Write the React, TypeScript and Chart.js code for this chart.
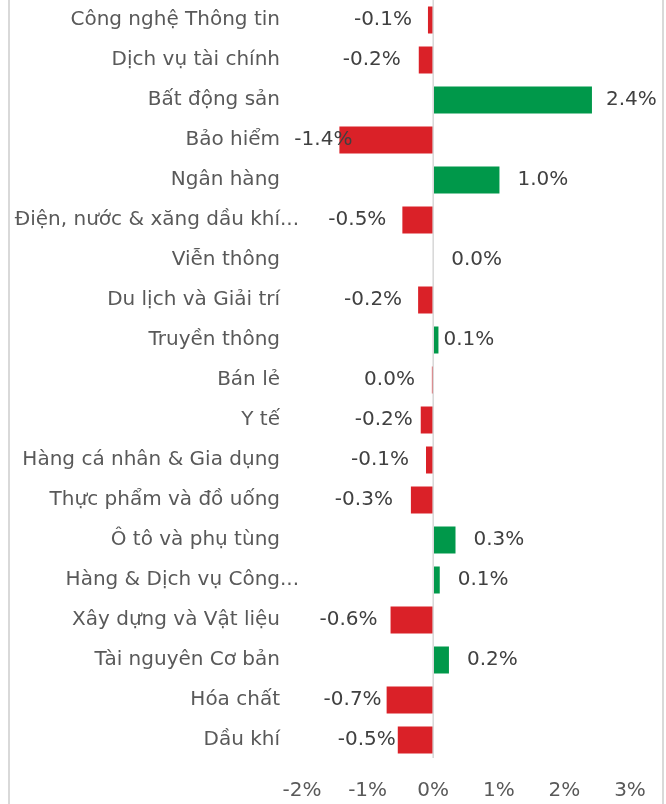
import React, { useEffect, useRef } from "react";
import { Chart, registerables } from "chart.js";

Chart.register(...registerables);

const categories: string[] = [
  "Công nghệ Thông tin",
  "Dịch vụ tài chính",
  "Bất động sản",
  "Bảo hiểm",
  "Ngân hàng",
  "Điện, nước & xăng dầu khí...",
  "Viễn thông",
  "Du lịch và Giải trí",
  "Truyền thông",
  "Bán lẻ",
  "Y tế",
  "Hàng cá nhân & Gia dụng",
  "Thực phẩm và đồ uống",
  "Ô tô và phụ tùng",
  "Hàng & Dịch vụ Công...",
  "Xây dựng và Vật liệu",
  "Tài nguyên Cơ bản",
  "Hóa chất",
  "Dầu khí",
];

const values: number[] = [
  -0.08, -0.22, 2.42, -1.43, 1.01, -0.47, 0.0, -0.23, 0.08, -0.02, -0.19, -0.11,
  -0.34, 0.34, 0.1, -0.65, 0.24, -0.71, -0.54,
];

const xTicks: number[] = [-2, -1, 0, 1, 2, 3];

// style: gap (px) between bar end and its value label
const labelGap: number[] = [16, 18, 14, -13, 18, 16, 18, 16, 5, 17, 8, 17, 18, 18, 18, 13, 18, 5, 2];

const FONT = '"DejaVu Sans", sans-serif';
const RED = "#DA2128";
const GREEN = "#00984A";
const TEXT = "#595959";
const LABEL = "#404040";
const LINE = "#D9D9D9";

const fmt = (v: number) => {
  const r = Math.round(v * 10) / 10;
  return (r === 0 ? 0 : r).toFixed(1) + "%";
};

const decorPlugin = {
  id: "decor",
  beforeDraw(chart: any) {
    const ctx = chart.ctx;
    ctx.save();
    ctx.strokeStyle = LINE;
    ctx.lineWidth = 2;
    ctx.beginPath();
    ctx.moveTo(9, 0);
    ctx.lineTo(9, chart.height);
    ctx.moveTo(663, 0);
    ctx.lineTo(663, chart.height);
    ctx.stroke();
    ctx.restore();
  },
  afterDatasetsDraw(chart: any) {
    const ctx = chart.ctx;
    const xs = chart.scales.x;
    const ys = chart.scales.y;
    const area = chart.chartArea;
    ctx.save();
    // zero line
    const x0 = xs.getPixelForValue(0);
    ctx.strokeStyle = LINE;
    ctx.lineWidth = 1.6;
    ctx.beginPath();
    ctx.moveTo(x0, area.top);
    ctx.lineTo(x0, area.bottom - 2);
    ctx.stroke();

    ctx.font = `20px ${FONT}`;
    ctx.textBaseline = "middle";
    // x tick labels
    ctx.fillStyle = TEXT;
    ctx.textAlign = "center";
    xs.ticks.forEach((t: any) => {
      ctx.fillText(`${t.value}%`, xs.getPixelForValue(t.value), area.bottom + 31);
    });
    // category labels
    const lx = area.left - 22;
    categories.forEach((c, i) => {
      const y = ys.getPixelForValue(i);
      if (c.endsWith("...")) {
        const base = c.slice(0, -3);
        ctx.textAlign = "right";
        ctx.fillText(base, lx, y);
        ctx.textAlign = "left";
        ctx.fillText("...", lx, y);
      } else {
        ctx.textAlign = "right";
        ctx.fillText(c, lx, y);
      }
    });
    // value labels
    ctx.fillStyle = LABEL;
    const meta = chart.getDatasetMeta(0);
    meta.data.forEach((el: any, i: number) => {
      const v = values[i];
      const g = labelGap[i];
      if (v >= 0) {
        ctx.textAlign = "left";
        ctx.fillText(fmt(v), el.x + g, el.y);
      } else {
        ctx.textAlign = "right";
        ctx.fillText(fmt(v), el.x - g, el.y);
      }
    });
    ctx.restore();
  },
};

export default function App() {
  const ref = useRef<HTMLCanvasElement | null>(null);
  useEffect(() => {
    if (!ref.current) return;
    const chart = new Chart(ref.current, {
      type: "bar",
      data: {
        labels: categories,
        datasets: [
          {
            data: values,
            backgroundColor: values.map((v) => (v >= 0 ? GREEN : RED)),
            borderWidth: 0,
            barPercentage: 0.675,
            categoryPercentage: 1,
          },
        ],
      },
      options: {
        indexAxis: "y",
        animation: false,
        responsive: true,
        maintainAspectRatio: false,
        layout: { padding: { left: 302, right: 36, top: 0, bottom: 44 } },
        plugins: {
          legend: { display: false },
          tooltip: { enabled: false },
        },
        scales: {
          y: {
            type: "category",
            display: false,
            offset: true,
          },
          x: {
            type: "linear",
            min: xTicks[0],
            max: xTicks[xTicks.length - 1],
            afterBuildTicks: (scale: any) => {
              scale.ticks = xTicks.map((v) => ({ value: v }));
            },
            grid: { display: false, drawTicks: false },
            border: { display: false },
            ticks: { display: false },
          },
        },
      },
      plugins: [decorPlugin],
    });
    return () => chart.destroy();
  }, []);
  return (
    <div style={{ position: "fixed", left: 0, top: 0, width: 666, height: 804, background: "#fff" }}>
      <canvas ref={ref} />
    </div>
  );
}
